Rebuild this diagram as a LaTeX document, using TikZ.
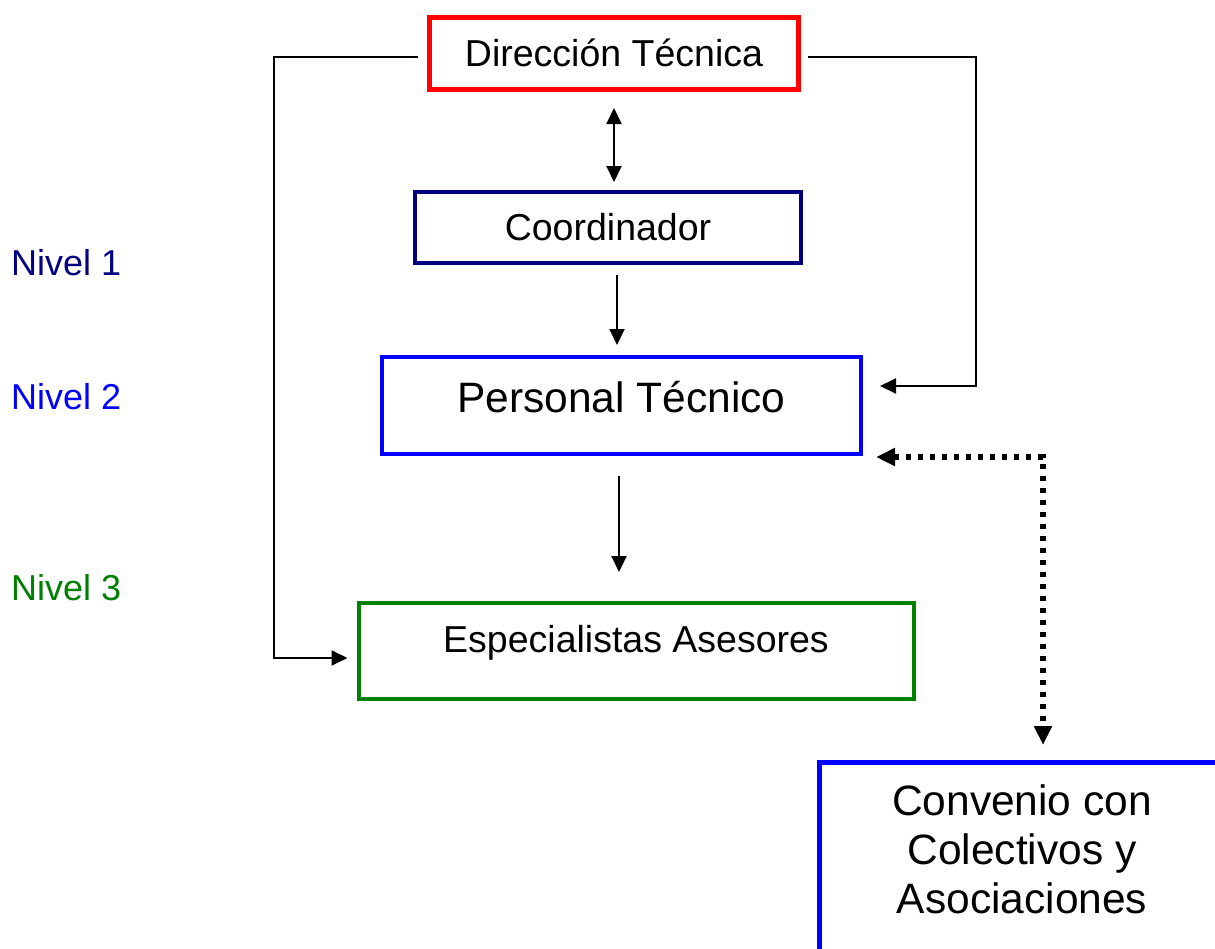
\documentclass[tikz,border=0pt]{standalone}
\usepackage{fontspec}
\setmainfont{Liberation Sans}
\usetikzlibrary{arrows.meta}
\definecolor{cred}{RGB}{255,0,0}
\definecolor{cnavy}{RGB}{0,0,128}
\definecolor{cblue}{RGB}{0,0,255}
\definecolor{cgreen}{RGB}{0,128,0}
\begin{document}
\begin{tikzpicture}[x=1pt,y=-1pt,
  box/.style={draw, rectangle, outer sep=0pt, inner sep=0pt, text=black},
  fA/.style={font=\fontsize{37.5}{43}\selectfont},
  fB/.style={font=\fontsize{42.5}{49}\selectfont},
  tipS/.tip={Triangle[length=16pt,width=15pt]},
  tipD/.tip={Triangle[length=19pt,width=17pt]},
  conn/.style={draw=black, line width=2pt, -tipS},
  dconn/.style={draw=black, line width=6pt, dash pattern=on 5.5pt off 6.5pt, tipD-tipD},
  nivel/.style={anchor=base west, inner sep=0pt, font=\fontsize{36}{42}\selectfont}]
\clip (0,0) rectangle (1215,948);
\fill[white] (0,0) rectangle (1215,948);

% boxes
\node[box, fA, draw=cred, line width=5pt, minimum width=369pt, minimum height=72pt,
      text height=26.9pt, text depth=0pt] (dt) at (614,53.5) {Dirección Técnica};
\node[box, fA, draw=cnavy, line width=4pt, minimum width=386pt, minimum height=71pt,
      text height=26.3pt, text depth=0pt] (co) at (608,227.5) {Coordinador};
\node[box, fB, draw=cblue, line width=4.5pt, minimum width=479pt, minimum height=97pt,
      text height=30.4pt, text depth=17pt] (pt) at (621.5,405.5) {Personal Técnico};
\node[box, fA, draw=cgreen, line width=4pt, minimum width=555pt, minimum height=96pt,
      text height=26.8pt, text depth=24.8pt] (es) at (636,651) {Especialistas Asesores};
\node[box, draw=cblue, line width=5pt, minimum width=448pt, minimum height=250pt,
      anchor=north west] (cv) at (819,762) {};
\node[fB, inner sep=0pt, align=center] (cvt) at (1022,849) {Convenio con\\Colectivos y\\Asociaciones};

% levels
\node[nivel, text=cnavy] (n1) at (11,275) {Nivel 1};
\node[nivel, text=cblue] (n2) at (11,409) {Nivel 2};
\node[nivel, text=cgreen] (n3) at (11,600) {Nivel 3};

% connectors
\draw[conn, tipS-tipS, shorten <=18.5pt, shorten >=10pt]
      (dt.south) -- (dt.south |- co.north);
\draw[conn, shorten <=12pt, shorten >=12pt]
      ([xshift=9pt]co.south) -- ([xshift=9pt]co.south |- pt.north);
\draw[conn, shorten <=22pt, shorten >=31pt]
      ([xshift=-2.5pt]pt.south) -- ([xshift=-2.5pt]pt.south |- es.north);
\draw[conn, shorten <=11.5pt, shorten >=11pt]
      ([yshift=-3.5pt]dt.west) -- ++(-155.5,0) |- ([yshift=-7pt]es.west);
\draw[conn, shorten <=9.5pt, shorten >=19pt]
      ([yshift=-3.5pt]dt.east) -- ++(177.5,0) |- ([yshift=19.5pt]pt.east);
\draw[dconn, shorten <=15pt, shorten >=17pt]
      ([yshift=-3pt]pt.south east) -| (cv.north);
\end{tikzpicture}
\end{document}
